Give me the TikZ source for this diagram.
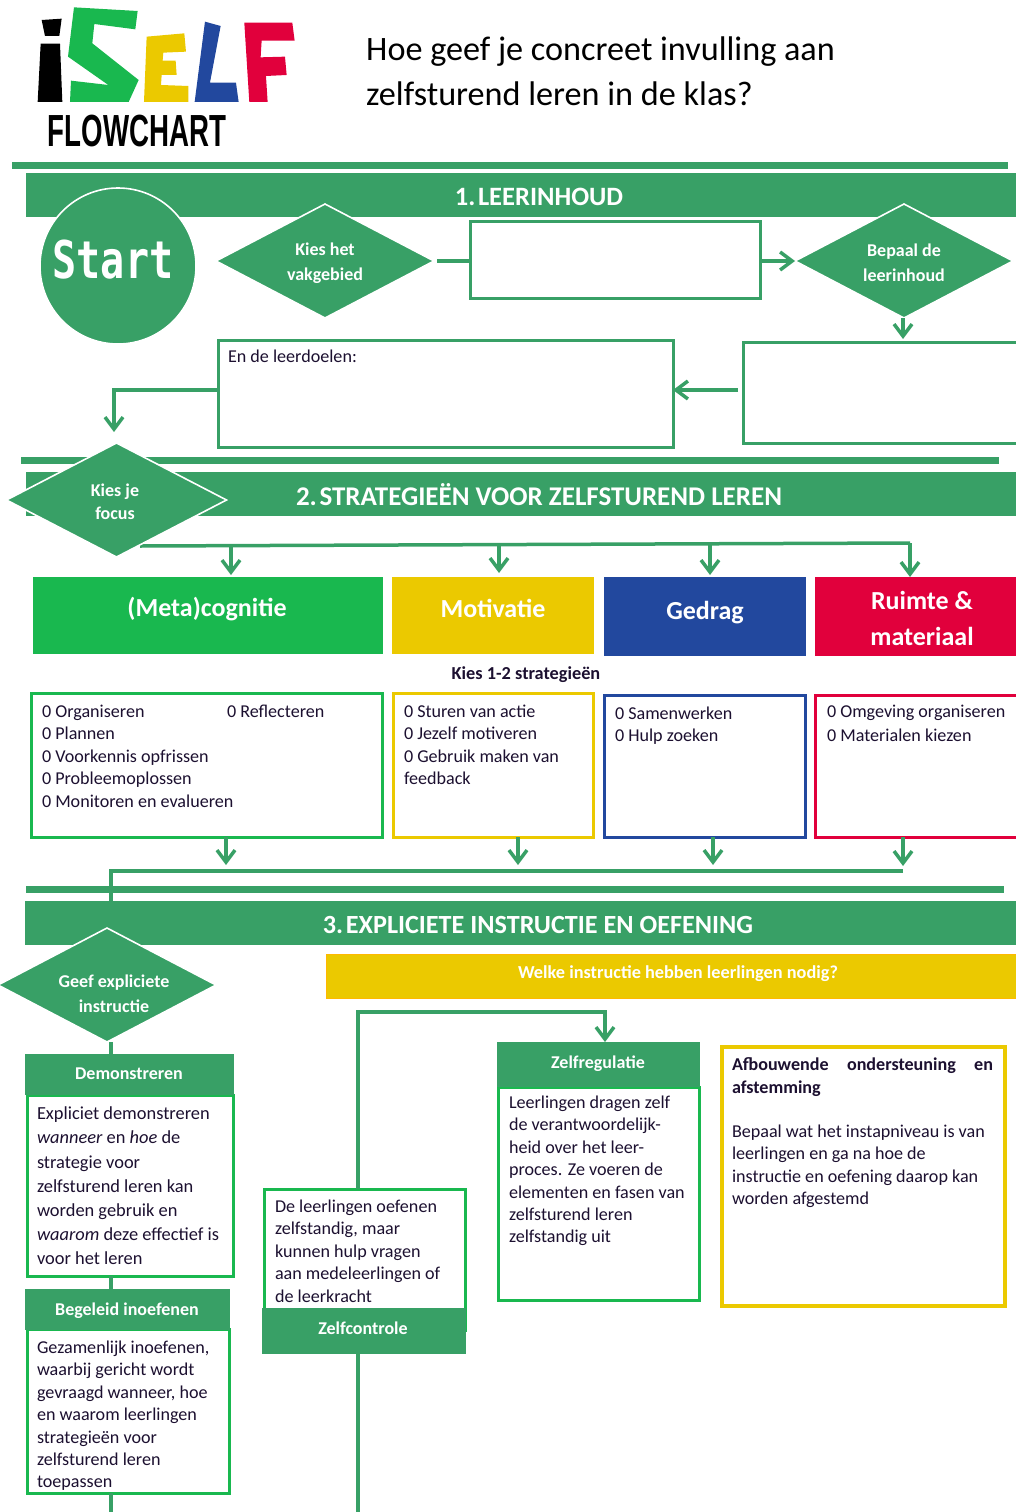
\documentclass[tikz,border=0pt]{standalone}
\usepackage{fontspec}
\setmainfont{Carlito}
\newfontfamily\logofont{Liberation Sans}
\newfontfamily\startfont{DejaVu Sans Mono}
\usetikzlibrary{shapes.geometric,arrows.meta}
\definecolor{selfgreen}{RGB}{56,160,102}
\definecolor{metagreen}{RGB}{25,184,79}
\definecolor{motiyellow}{RGB}{235,201,0}
\definecolor{gedragblue}{RGB}{34,72,158}
\definecolor{ruimtered}{RGB}{225,0,60}
\definecolor{bartrim}{RGB}{255,184,0}
\definecolor{inktext}{RGB}{28,16,48}
\tikzset{
  block/.style={rectangle,anchor=north west,inner sep=0pt,outer sep=0pt},
  banner/.style={block,fill=selfgreen,text=white},
  rulebar/.style={block,fill=selfgreen},
  decide/.style={diamond,fill=selfgreen,draw=white,line width=1.6pt,inner sep=0pt,outer sep=0pt,minimum width=218,minimum height=114},
  decidetext/.style={inner sep=0pt,text=white,align=center,font=\fontsize{18}{25}\selectfont\bfseries},
  answerbox/.style={block,draw=selfgreen,line width=3pt,fill=white},
  catbox/.style={block,text=white,align=center,font=\fontsize{26}{36}\selectfont\bfseries},
  listbox/.style={block,line width=3pt,fill=white},
  stepbox/.style={block,fill=selfgreen},
  steptitle/.style={inner sep=0pt,text=white,font=\fontsize{18}{22}\selectfont\bfseries},
  bannertext/.style={text=white,inner sep=0pt,font=\fontsize{26.5}{30}\selectfont\bfseries},
  bodytext/.style={anchor=north west,inner sep=0pt,outer sep=0pt,align=left,text=inktext,
    font=\fontsize{18.1}{22.4}\selectfont,execute at begin node=\strut},
  flow/.style={draw=selfgreen,line width=3.5pt},
  flowarrow/.style={flow,-{Straight Barb[length=12pt,width=18pt,line width=3.5pt]}}
}
\begin{document}
\begin{tikzpicture}[x=1pt,y=-1pt]
  \useasboundingbox (0,0) rectangle (1016,1512);
  % logo
  \begin{scope}[x=0.3333pt,y=-0.3333pt]
    \fill[black] (125,60) -- (185,56) -- (178,108) -- (135,108) -- cycle;
    \fill[black] (122,131) -- (180,131) -- (187,306) -- (113,306) -- cycle;
    \fill[metagreen] (222,22) -- (413,33) -- (406,88) -- (283,72) -- (277,130) -- (416,240) -- (386,306) -- (210,306) -- (213,242) -- (325,255) -- (204,170) -- cycle;
    \fill[motiyellow] (440,110) -- (553,100) -- (558,155) -- (490,158) -- (488,182) -- (527,182) -- (530,225) -- (485,225) -- (483,255) -- (565,258) -- (565,306) -- (432,306) -- cycle;
    \fill[gedragblue] (615,65) -- (662,78) -- (630,248) -- (708,248) -- (716,306) -- (584,306) -- cycle;
    \fill[ruimtered] (733,68) -- (877,68) -- (884,122) -- (785,122) -- (782,172) -- (855,170) -- (860,225) -- (798,228) -- (803,306) -- (748,306) -- cycle;
  \end{scope}
  \node[inner sep=0pt] (flowchartlabel) at (137,131) {\scalebox{.615}[1]{\logofont\fontsize{45}{45}\selectfont\bfseries FLOWCHART}};
  \node[anchor=north west,inner sep=0pt,align=left,font=\fontsize{34.2}{44.5}\selectfont] (question) at (366,37) {Hoe geef je concreet invulling aan\\zelfsturend leren in de klas?};

  % 1. leerinhoud
  \node[rulebar,minimum width=996,minimum height=7] (ruleone) at (12,162) {};
  \node[banner,minimum width=994,minimum height=44] (bannerone) at (26,173) {};
  \node[bannertext] (banneronetext) at (539,197) {1.\hspace{.1em}LEERINHOUD};
  \node[circle,fill=selfgreen,draw=white,line width=1.6pt,minimum size=156,inner sep=0pt] (start) at (118,266) {};
  \node[text=white,inner sep=0pt] (starttext) at (113,260) {\scalebox{.77}[1]{\startfont\fontsize{52}{52}\selectfont\bfseries Start}};
  \node[decide] (vakgebied) at (325,261) {};
  \node[decidetext] (vakgebiedtext) at (325,263) {Kies het\\vakgebied};
  \node[answerbox,minimum width=290,minimum height=77] (vakbox) at (470,221) {};
  \node[decide] (inhoud) at (904,261) {};
  \node[decidetext] (inhoudtext) at (904,263) {Bepaal de\\leerinhoud};
  \node[answerbox,minimum width=280,minimum height=101] (inhoudbox) at (743,342) {};
  \node[answerbox,minimum width=455,minimum height=107] (doelbox) at (218,340) {};
  \node[bodytext] (doeltext) at (228,347) {En de leerdoelen:};
  \coordinate (vakout) at (437,261);
  \coordinate (vakin) at (795,261);
  \coordinate (inhoudout) at (903,318);
  \coordinate (inhoudin) at (903,339);
  \coordinate (doelout) at (738,390);
  \coordinate (focusin) at (114,432);
  \draw[flow] (vakout) -- (vakout -| vakbox.west);
  \draw[flowarrow] (vakin -| vakbox.east) -- (vakin);
  \draw[flowarrow] (inhoudout) -- (inhoudin);
  \draw[flowarrow] (doelout) -- (doelout -| doelbox.east);
  \draw[flowarrow] (doelout -| doelbox.west) -| (focusin);

  % 2. strategieen
  \node[rulebar,minimum width=978,minimum height=7] (ruletwo) at (21,457) {};
  \node[banner,minimum width=994,minimum height=44] (bannertwo) at (26,472) {};
  \node[bannertext,font=\fontsize{27}{30}\selectfont\bfseries] (bannertwotext) at (539,494.5) {2.\hspace{.1em}STRATEGIEËN VOOR ZELFSTUREND LEREN};
  \coordinate (busstart) at (140,546);
  \coordinate (busend) at (910,543);
  \draw[flow] (busstart) -- (busend);
  \node[decide,minimum width=220] (focus) at (116.5,500) {};
  \node[decidetext,font=\fontsize{18}{23}\selectfont\bfseries] (focustext) at (115,502) {Kies je\\focus};
  \node[catbox,fill=metagreen,minimum width=350,minimum height=77] (meta) at (33,577) {};
  \node[catbox,fill=motiyellow,minimum width=202,minimum height=77] (motivatie) at (392,577) {};
  \node[catbox,fill=gedragblue,minimum width=202,minimum height=79] (gedrag) at (604,577) {};
  \node[catbox,fill=ruimtered,minimum width=210,minimum height=79] (ruimte) at (815,577) {};
  \node[catbox,anchor=center] (metatext) at (207,609) {(Meta)cognitie};
  \node[catbox,anchor=center] (motivatietext) at (493,608) {Motivatie};
  \node[catbox,anchor=center] (gedragtext) at (705,613) {Gedrag};
  \node[catbox,anchor=center] (ruimtetext) at (922,618) {Ruimte \&\\materiaal};
  \draw[flowarrow] (231,545) -- (231,575);
  \draw[flowarrow] (499,545) -- (499,573);
  \draw[flowarrow] (710,544) -- (710,575);
  \draw[flowarrow] (910,543) -- (910,577);
  \node[inner sep=0pt,text=inktext,font=\fontsize{18.3}{20}\selectfont\bfseries] (kies) at (526,675) {Kies 1-2 strategieën};
  \node[listbox,draw=metagreen,minimum width=351,minimum height=144] (metalist) at (31,693) {};
  \node[listbox,draw=motiyellow,minimum width=200,minimum height=144] (motilist) at (393,693) {};
  \node[listbox,draw=gedragblue,minimum width=201,minimum height=142] (gedraglist) at (604,695) {};
  \node[listbox,draw=ruimtered,minimum width=210,minimum height=142] (ruimtelist) at (815,695) {};
  \node[bodytext] (metaitems) at (42,705) {0 Organiseren\\0 Plannen\\0 Voorkennis opfrissen\\0 Probleemoplossen\\0 Monitoren en evalueren};
  \node[bodytext] (metaextra) at (227,702) {0 Reflecteren};
  \node[bodytext] (motiitems) at (404,705) {0 Sturen van actie\\0 Jezelf motiveren\\0 Gebruik maken van\\feedback};
  \node[bodytext] (gedragitems) at (615,707) {0 Samenwerken\\0 Hulp zoeken};
  \node[bodytext] (ruimteitems) at (827,705) {0 Omgeving organiseren\\[1.6pt]0 Materialen kiezen};
  \coordinate (mergeright) at (903,871);
  \coordinate (mergedown) at (111,901);
  \draw[flowarrow] (226,837) -- (226,865);
  \draw[flowarrow] (518,837) -- (518,865);
  \draw[flowarrow] (713,837) -- (713,865);
  \draw[flowarrow] (903,837) -- (903,866);

  % 3. expliciete instructie
  \node[rulebar,minimum width=978,minimum height=7] (rulethree) at (26,886) {};
  \draw[flow] (mergeright) -| (mergedown);
  \node[banner,minimum width=995,minimum height=44] (bannerthree) at (25,901) {};
  \node[bannertext,font=\fontsize{26.2}{30}\selectfont\bfseries] (bannerthreetext) at (538,925) {3.\hspace{.1em}EXPLICIETE INSTRUCTIE EN OEFENING};
  \node[decide] (instructie) at (107,985) {};
  \node[decidetext] (instructietext) at (114,994) {Geef expliciete\\instructie};
  \node[block,fill=motiyellow,draw=bartrim,line width=1pt,minimum width=695,minimum height=44] (nodigbar) at (326,954) {};
  \node[inner sep=0pt,text=white,font=\fontsize{18.3}{20}\selectfont\bfseries] (nodigtext) at (678,974) {Welke instructie hebben leerlingen nodig?};

  \node[listbox,draw=metagreen,minimum width=206,minimum height=181] (demobox) at (27,1095) {};
  \node[stepbox,minimum width=209,minimum height=41] (demohead) at (25,1054) {};
  \node[steptitle] (demotitle) at (129,1074) {Demonstreren};
  \node[bodytext,font=\fontsize{18.4}{24.2}\selectfont] (demotext) at (37,1107) {Expliciet demonstreren\\\textit{wanneer} en \textit{hoe} de\\strategie voor\\zelfsturend leren kan\\worden gebruik en\\\textit{waarom} deze effectief is\\voor het leren};

  \node[listbox,draw=metagreen,minimum width=202,minimum height=164] (begeleidbox) at (27,1329) {};
  \node[stepbox,minimum width=205,minimum height=41] (begeleidhead) at (25,1289) {};
  \node[steptitle] (begeleidtitle) at (127,1311) {Begeleid inoefenen};
  \node[bodytext] (begeleidtext) at (37,1341) {Gezamenlijk inoefenen,\\waarbij gericht wordt\\gevraagd wanneer, hoe\\en waarom leerlingen\\strategieën voor\\zelfsturend leren\\toepassen};
  \coordinate (pageleft) at (111,1512);
  \draw[flow] (instructie.south -| pageleft) -- (demohead.north -| pageleft);
  \draw[flow] (demobox.south -| pageleft) -- (begeleidhead.north -| pageleft);
  \draw[flow] (begeleidbox.south -| pageleft) -- (pageleft);

  \node[listbox,draw=metagreen,minimum width=201,minimum height=141] (oefenbox) at (264,1189) {};
  \node[stepbox,minimum width=204,minimum height=46] (controlehead) at (262,1308) {};
  \node[steptitle] (controletitle) at (363,1328) {Zelfcontrole};
  \node[bodytext] (oefentext) at (275,1200) {De leerlingen oefenen\\zelfstandig, maar\\kunnen hulp vragen\\aan medeleerlingen of\\de leerkracht};

  \node[listbox,draw=metagreen,minimum width=201,minimum height=213] (regulatiebox) at (498,1087) {};
  \node[stepbox,minimum width=203,minimum height=45] (regulatiehead) at (497,1042) {};
  \node[steptitle] (regulatietitle) at (598,1064) {Zelfregulatie};
  \node[bodytext] (regulatietext) at (509,1096) {Leerlingen dragen zelf\\de verantwoordelijk-\\heid over het leer-\\proces. Ze voeren de\\elementen en fasen van\\zelfsturend leren\\zelfstandig uit};

  \coordinate (loopbottom) at (358,1512);
  \coordinate (loopturn) at (358,1012);
  \coordinate (loopin) at (605,1042);
  \draw[flow] (controlehead.south -| loopbottom) -- (loopbottom);
  \draw[flowarrow] (oefenbox.north -| loopturn) -- (loopturn) -| (loopin);

  \node[listbox,draw=motiyellow,line width=4pt,minimum width=283,minimum height=259] (afbouwbox) at (722,1047) {};
  \node[bodytext] (afbouwtext) at (732,1058) {\makebox[261pt][s]{\textbf{Afbouwende\hfill ondersteuning\hfill en}}\\\textbf{afstemming}\\[21.5pt]Bepaal wat het instapniveau is van\\leerlingen en ga na hoe de\\instructie en oefening daarop kan\\worden afgestemd};
\end{tikzpicture}
\end{document}
